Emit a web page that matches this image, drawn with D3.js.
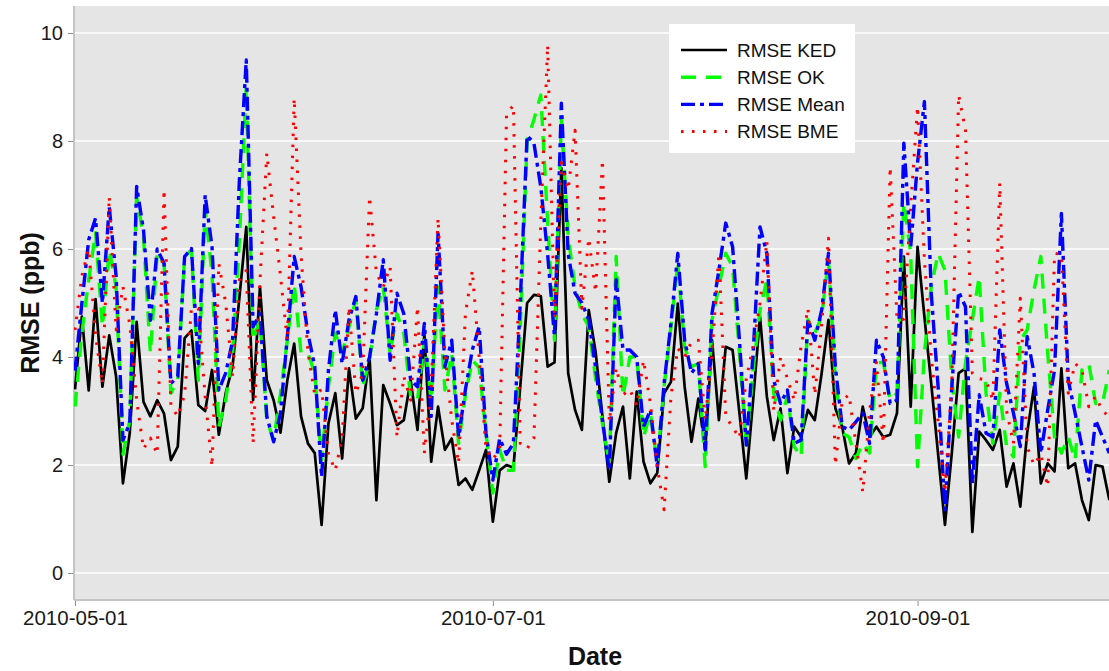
<!DOCTYPE html>
<html>
<head>
<meta charset="utf-8">
<script src="https://cdn.jsdelivr.net/npm/d3@7"></script>
<style>
  body { margin: 0; background: #fff; }
  svg { display: block; font-family: "Liberation Sans", Arial, sans-serif; }
</style>
</head>
<body>
<svg id="chart" width="1109" height="671"></svg>
<script>
// Daily RMSE of four interpolation methods, 2010-05-01 onwards
const startDate = new Date(2010, 4, 1);
const endDate = new Date(2010, 8, 30);
const xTickLabels = ["2010-05-01", "2010-07-01", "2010-09-01"];
const yTicks = [0, 2, 4, 6, 8, 10];
const seriesNames = ["RMSE KED", "RMSE OK", "RMSE Mean", "RMSE BME"];

const rmseKED = [
  3.4, 4.75, 3.38, 5.07, 3.45, 4.4, 3.64, 1.66, 2.6, 4.65,
  3.17, 2.9, 3.2, 2.95, 2.09, 2.34, 4.35, 4.49, 3.11, 3.0,
  3.76, 2.56, 3.33, 3.82, 5.1, 6.41, 3.2, 5.3, 3.57, 3.2,
  2.6, 3.57, 4.25, 2.9, 2.4, 2.22, 0.89, 2.77, 3.33, 2.12,
  3.79, 2.86, 3.05, 4.0, 1.35, 3.48, 3.14, 2.74, 2.83, 3.57,
  2.65, 4.44, 2.06, 3.08, 2.28, 2.49, 1.63, 1.75, 1.54, 1.9,
  2.28, 0.95, 1.9, 2.0, 1.95, 3.45, 5.0, 5.15, 5.13, 3.82,
  3.9, 7.5, 3.7, 3.02, 2.65, 4.87, 4.1, 2.9, 1.69, 2.59,
  3.08, 1.75, 3.36, 2.06, 1.66, 1.85, 3.33, 3.54, 4.99, 3.45,
  2.43, 3.23, 2.28, 4.31, 2.83, 4.19, 4.13, 2.96, 1.75, 3.2,
  4.75, 3.27, 2.46, 3.05, 1.85, 2.71, 2.52, 3.02, 2.83, 3.7,
  4.69, 3.05, 2.71, 2.03, 2.22, 3.08, 2.52, 2.71, 2.52, 2.56,
  2.96, 5.86, 3.08, 6.04, 4.75, 3.5, 2.2, 0.89, 2.22, 3.7,
  3.79, 0.76, 2.62, 2.46, 2.28, 2.65, 1.6, 2.03, 1.23, 2.59,
  3.45, 1.66, 2.03, 1.88, 3.79, 1.94, 2.03, 1.35, 0.98, 2.0,
  1.97, 1.35
];

const rmseOK = [
  3.08, 4.44, 5.43, 6.3, 4.56, 5.98, 5.3, 2.2, 2.83, 6.97,
  6.23, 4.07, 5.92, 5.73, 3.33, 3.57, 5.86, 5.98, 3.57, 6.72,
  5.55, 2.71, 3.2, 4.07, 6.17, 9.0, 4.31, 4.69, 2.83, 2.46,
  3.33, 4.31, 5.36, 4.07, 4.07, 3.7, 2.09, 3.45, 4.44, 4.07,
  4.56, 5.06, 3.45, 3.94, 4.87, 5.3, 4.07, 4.8, 4.44, 3.27,
  3.2, 4.31, 3.2, 5.3, 3.39, 4.07, 2.4, 3.3, 3.94, 3.8,
  2.59, 1.48, 2.28, 1.9, 1.9, 4.5, 8.0, 8.4, 8.85, 6.5,
  4.31, 8.39, 6.23, 5.3, 4.8, 4.56, 3.6, 2.77, 2.03, 5.86,
  3.27, 4.0, 4.0, 2.52, 2.96, 2.03, 3.45, 4.56, 5.73, 4.19,
  3.82, 3.88, 1.97, 4.69, 5.3, 5.92, 5.67, 4.07, 2.34, 3.76,
  4.87, 5.43, 3.33, 2.83, 3.27, 2.34, 2.15, 4.69, 4.44, 4.75,
  5.8, 3.57, 2.59, 2.52, 2.12, 2.4, 2.22, 3.88, 3.91, 3.2,
  3.33, 6.85, 5.92, 1.97, 4.07, 5.3, 5.92, 5.61, 3.57, 2.52,
  3.9, 4.69, 5.49, 3.33, 2.4, 3.33, 2.34, 2.15, 4.31, 4.5,
  5.24, 5.86, 4.07, 2.52, 2.22, 2.52, 2.09, 3.76, 3.88, 3.14,
  3.14, 3.76
];

const rmseMean = [
  3.75, 4.99, 6.17, 6.57, 5.0, 6.78, 5.5, 2.46, 2.78, 7.16,
  6.35, 4.68, 6.0, 5.73, 3.51, 3.64, 5.86, 6.01, 3.88, 7.0,
  6.04, 3.39, 3.7, 4.3, 7.28, 9.5, 4.56, 4.8, 2.9, 2.43,
  2.96, 4.38, 5.86, 5.3, 4.44, 3.82, 1.78, 3.76, 4.87, 3.88,
  4.69, 5.12, 3.57, 4.0, 4.8, 5.8, 3.94, 5.18, 4.8, 3.57,
  3.45, 4.62, 2.9, 6.29, 3.82, 4.31, 2.52, 3.4, 4.13, 4.56,
  2.59, 1.72, 2.49, 2.2, 2.4, 5.0, 8.1, 7.96, 7.15, 5.9,
  4.38, 8.7, 5.9, 5.18, 5.0, 4.69, 3.8, 2.83, 1.9, 5.43,
  4.13, 4.13, 4.0, 2.71, 3.02, 1.97, 3.51, 4.62, 5.92, 4.31,
  3.7, 3.88, 2.28, 4.81, 5.61, 6.48, 6.04, 4.31, 2.37, 4.07,
  6.41, 5.92, 3.57, 3.14, 3.39, 2.4, 2.46, 4.69, 4.31, 4.87,
  5.92, 3.82, 2.71, 2.65, 2.8, 2.96, 2.4, 4.31, 4.0, 3.14,
  3.2, 7.96, 6.04, 7.6, 8.73, 5.18, 3.45, 1.17, 3.45, 5.21,
  4.93, 1.66, 3.3, 2.59, 2.52, 4.5, 3.51, 2.96, 2.34, 4.38,
  3.7, 2.22, 3.02, 3.76, 6.66, 3.57, 2.96, 2.34, 1.72, 2.83,
  2.52, 2.22
];

const rmseBME = [
  4.5, 5.5, 6.0, 4.4, 3.5, 6.97, 4.5, 5.3, 4.6, 3.2,
  2.3, 2.5, 2.2, 7.1, 3.1, 2.9, 3.3, 4.9, 4.9, 3.27,
  1.97, 5.73, 5.0, 3.64, 5.43, 5.6, 2.4, 5.4, 7.77, 6.6,
  5.5, 4.3, 8.79, 5.9, 4.1, 3.3, 3.4, 2.2, 1.9, 2.5,
  4.93, 3.33, 3.7, 6.97, 5.55, 5.3, 5.67, 2.52, 3.64, 3.2,
  4.93, 2.22, 3.45, 6.57, 4.07, 2.83, 2.03, 4.81, 5.6, 4.0,
  2.3, 2.1, 2.3, 8.5, 8.66, 2.4, 2.3, 2.5, 6.5, 9.78,
  4.7, 7.6, 7.1, 8.2, 4.9, 6.2, 5.2, 7.65, 2.8, 3.8,
  3.3, 3.4, 3.1, 3.94, 3.14, 1.97, 1.17, 3.27, 4.16, 4.0,
  4.28, 4.31, 2.83, 4.07, 5.92, 2.9, 2.7, 2.5, 3.6, 4.2,
  5.0, 6.15, 3.0, 4.0, 3.6, 3.2, 4.2, 4.9, 3.3, 4.6,
  6.2, 2.0, 3.2, 3.3, 2.4, 1.5, 3.0, 3.9, 2.4, 7.52,
  4.7, 4.7, 6.8, 8.64, 5.8, 4.0, 2.8, 1.5, 3.5, 8.85,
  8.2, 3.7, 3.6, 3.57, 3.2, 7.22, 3.0, 2.4, 5.09, 2.34,
  2.0, 2.2, 1.6, 5.92, 5.9, 3.33, 3.88, 3.76, 3.08, 3.27,
  3.0, 2.9
];

const seriesValues = [rmseKED, rmseOK, rmseMean, rmseBME];
const seriesColors = ["#000000", "#00ff00", "#0000ff", "#ff0000"];
const seriesDash = [null, "15,10", "14,5,4,5", "2.5,8.5"];
const seriesWidth = [2.7, 3.4, 3.4, 3.0];

const W = 1109, H = 671;
const svg = d3.select("#chart");
const dates = rmseKED.map((_, i) => d3.timeDay.offset(startDate, i));
const parse = d3.timeParse("%Y-%m-%d");

const panelLeft = 74, panelTop = 6, panelBottom = 600;
const x = d3.scaleTime().domain([startDate, endDate]).range([75, 75 + 152 * 6.85]);
const y = d3.scaleLinear().domain([-0.5, 10.5]).range([panelBottom, panelTop]);

// panel background
svg.append("rect")
  .attr("x", panelLeft).attr("y", panelTop)
  .attr("width", W - panelLeft + 10).attr("height", panelBottom - panelTop)
  .attr("fill", "#e5e5e5");

// horizontal grid lines
svg.append("g").selectAll("line").data(yTicks).join("line")
  .attr("x1", panelLeft).attr("x2", W)
  .attr("y1", d => y(d)).attr("y2", d => y(d))
  .attr("stroke", "#ffffff").attr("stroke-width", 1.6);

// axis lines along the panel edges
svg.append("line").attr("x1", panelLeft).attr("x2", panelLeft)
  .attr("y1", panelTop).attr("y2", panelBottom)
  .attr("stroke", "#c4c4c4").attr("stroke-width", 2);
svg.append("line").attr("x1", panelLeft).attr("x2", W)
  .attr("y1", panelBottom).attr("y2", panelBottom)
  .attr("stroke", "#c4c4c4").attr("stroke-width", 2);

// y axis
const yAxis = svg.append("g").attr("transform", `translate(${panelLeft - 1},0)`)
  .call(d3.axisLeft(y).tickValues(yTicks).tickSize(5).tickPadding(5).tickFormat(d3.format("d")));
yAxis.select(".domain").remove();
yAxis.selectAll(".tick line").attr("stroke", "#8c8c8c");
yAxis.selectAll(".tick text").attr("fill", "#1a1a1a").style("font-size", "20px")
  .style("font-family", "'Liberation Sans', Arial, sans-serif");

// x axis
const xAxis = svg.append("g").attr("transform", `translate(0,${panelBottom + 1})`)
  .call(d3.axisBottom(x).tickValues(xTickLabels.map(parse)).tickSize(5).tickPadding(4)
    .tickFormat(d3.timeFormat("%Y-%m-%d")));
xAxis.select(".domain").remove();
xAxis.selectAll(".tick line").attr("stroke", "#8c8c8c");
xAxis.selectAll(".tick text").attr("fill", "#1a1a1a").style("font-size", "20.5px")
  .style("font-family", "'Liberation Sans', Arial, sans-serif");

// axis titles
svg.append("text").attr("x", 595).attr("y", 665).attr("text-anchor", "middle")
  .attr("font-weight", "bold").attr("font-size", 25).attr("fill", "#111").text("Date");
svg.append("text").attr("transform", `translate(39,${(panelTop + panelBottom) / 2}) rotate(-90)`)
  .attr("text-anchor", "middle").attr("font-weight", "bold").attr("font-size", 25)
  .attr("fill", "#111").text("RMSE (ppb)");

// series lines
svg.append("clipPath").attr("id", "panel-clip").append("rect")
  .attr("x", panelLeft).attr("y", panelTop).attr("width", W - panelLeft).attr("height", panelBottom - panelTop);
const line = d3.line().x((d, i) => x(dates[i])).y(d => y(d));
const lines = svg.append("g").attr("clip-path", "url(#panel-clip)");
seriesValues.forEach((vals, k) => {
  lines.append("path").datum(vals)
    .attr("d", line)
    .attr("fill", "none")
    .attr("stroke", seriesColors[k])
    .attr("stroke-width", seriesWidth[k])
    .attr("stroke-dasharray", seriesDash[k])
    .attr("stroke-linejoin", "round");
});

// legend
const legend = svg.append("g");
legend.append("rect").attr("x", 669).attr("y", 24).attr("width", 186).attr("height", 129).attr("fill", "#ffffff");
seriesNames.forEach((name, k) => {
  const yy = 50 + k * 27.2;
  legend.append("line").attr("x1", 681).attr("x2", 727).attr("y1", yy).attr("y2", yy)
    .attr("stroke", seriesColors[k]).attr("stroke-width", seriesWidth[k])
    .attr("stroke-dasharray", seriesDash[k]);
  legend.append("text").attr("x", 737).attr("y", yy).attr("dy", "0.36em")
    .attr("font-size", 19).attr("fill", "#111").text(name);
});
</script>
</body>
</html>
